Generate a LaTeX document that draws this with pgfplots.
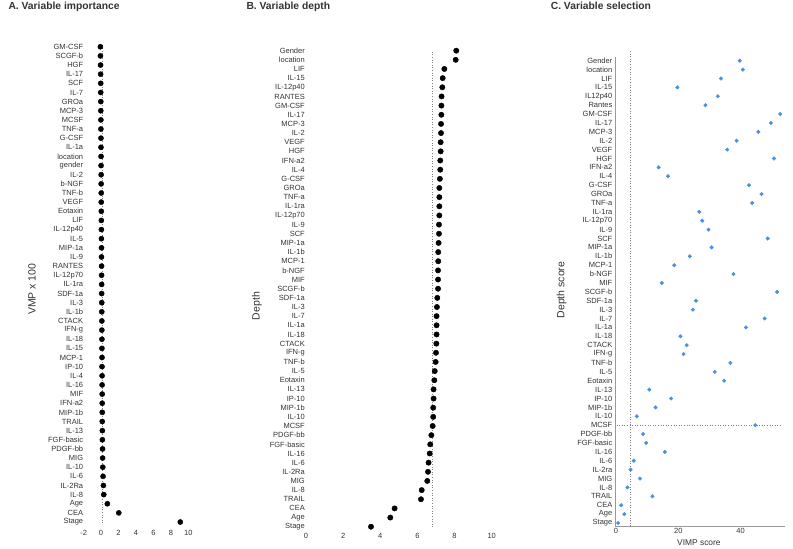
\documentclass[border=0pt]{standalone}
\usepackage{fontspec}
\setmainfont{Liberation Sans}
\usepackage{pgfplots}
\usepackage{pgfplotstable}
\pgfplotsset{compat=1.18}

\definecolor{txt}{HTML}{333333}
\definecolor{dotblue}{HTML}{4A90E2}

% A. Variable importance (rows from bottom to top)
\pgfplotstableread{
y v name
1 9.08 Stage
2 2.03 CEA
3 0.72 Age
4 0.31 IL-8
5 0.27 IL-2Ra
6 0.23 IL-6
7 0.20 IL-10
8 0.18 MIG
9 0.17 PDGF-bb
10 0.15 FGF-basic
11 0.15 IL-13
12 0.14 TRAIL
13 0.14 MIP-1b
14 0.13 IFN-a2
15 0.13 MIF
16 0.12 IL-16
17 0.12 IL-4
18 0.11 IP-10
19 0.11 MCP-1
20 0.10 IL-15
21 0.10 IL-18
22 0.09 IFN-g
23 0.09 CTACK
24 0.08 IL-1b
25 0.08 IL-3
26 0.07 SDF-1a
27 0.07 IL-1ra
28 0.06 IL-12p70
29 0.06 RANTES
30 0.05 IL-9
31 0.05 MIP-1a
32 0.04 IL-5
33 0.04 IL-12p40
34 0.03 LIF
35 0.03 Eotaxin
36 0.02 VEGF
37 0.02 TNF-b
38 0.01 b-NGF
39 0.01 IL-2
40 0.00 gender
41 0.00 location
42 -0.01 IL-1a
43 -0.01 G-CSF
44 -0.02 TNF-a
45 -0.02 MCSF
46 -0.03 MCP-3
47 -0.03 GROa
48 -0.04 IL-7
49 -0.04 SCF
50 -0.05 IL-17
51 -0.06 HGF
52 -0.07 SCGF-b
53 -0.08 GM-CSF
}\tabA

% B. Variable depth
\pgfplotstableread{
y v name
1 3.50 Stage
2 4.54 Age
3 4.77 CEA
4 6.19 TRAIL
5 6.23 IL-8
6 6.53 MIG
7 6.57 IL-2Ra
8 6.60 IL-6
9 6.66 IL-16
10 6.69 FGF-basic
11 6.75 PDGF-bb
12 6.82 MCSF
13 6.85 IL-10
14 6.85 MIP-1b
15 6.87 IP-10
16 6.87 IL-13
17 6.91 Eotaxin
18 6.93 IL-5
19 6.98 TNF-b
20 7.00 IFN-g
21 7.02 CTACK
22 7.03 IL-18
23 7.03 IL-1a
24 7.03 IL-7
25 7.05 IL-3
26 7.07 SDF-1a
27 7.11 SCGF-b
28 7.11 MIF
29 7.11 b-NGF
30 7.12 MCP-1
31 7.12 IL-1b
32 7.14 MIP-1a
33 7.16 SCF
34 7.16 IL-9
35 7.18 IL-12p70
36 7.18 IL-1ra
37 7.18 TNF-a
38 7.18 GROa
39 7.21 G-CSF
40 7.23 IL-4
41 7.23 IFN-a2
42 7.25 HGF
43 7.25 VEGF
44 7.27 IL-2
45 7.27 MCP-3
46 7.29 IL-17
47 7.29 GM-CSF
48 7.30 RANTES
49 7.34 IL-12p40
50 7.36 IL-15
51 7.45 LIF
52 8.06 location
53 8.09 Gender
}\tabB

% C. Variable selection (VIMP score)
\pgfplotstableread{
y v name
1 0.7 Stage
2 2.7 Age
3 1.7 CEA
4 11.7 TRAIL
5 3.7 IL-8
6 7.7 MIG
7 4.7 IL-2ra
8 5.7 IL-6
9 15.7 IL-16
10 9.7 FGF-basic
11 8.7 PDGF-bb
12 44.7 MCSF
13 6.7 IL-10
14 12.7 MIP-1b
15 17.7 IP-10
16 10.7 IL-13
17 34.7 Eotaxin
18 31.7 IL-5
19 36.7 TNF-b
20 21.7 IFN-g
21 22.7 CTACK
22 20.7 IL-18
23 41.7 IL-1a
24 47.7 IL-7
25 24.7 IL-3
26 25.7 SDF-1a
27 51.7 SCGF-b
28 14.7 MIF
29 37.7 b-NGF
30 18.7 MCP-1
31 23.7 IL-1b
32 30.7 MIP-1a
33 48.7 SCF
34 29.7 IL-9
35 27.7 IL-12p70
36 26.7 IL-1ra
37 43.7 TNF-a
38 46.7 GROa
39 42.7 G-CSF
40 16.7 IL-4
41 13.7 IFN-a2
42 50.7 HGF
43 35.7 VEGF
44 38.7 IL-2
45 45.7 MCP-3
46 49.7 IL-17
47 52.7 GM-CSF
48 28.7 Rantes
49 32.7 IL12p40
50 19.7 IL-15
51 33.7 LIF
52 40.7 location
53 39.7 Gender
}\tabC

\pgfplotsset{
  panel/.style={
    scale only axis,
    clip=false,
    anchor=south west,
    ymin=0.5, ymax=53.5,
    ytick={1,...,53},
    major tick length=0pt,
    axis line style={draw=none},
    tick label style={font=\fontsize{7.5bp}{9bp}\selectfont, text=txt},
    label style={font=\fontsize{10.5bp}{12bp}\selectfont, text=txt},
    /pgf/number format/assume math mode=true,
    yticklabel style={inner xsep=1bp},
  },
}
\tikzset{paneltitle/.style={anchor=base west, text=txt, font=\bfseries\fontsize{10.3bp}{12bp}\selectfont}}

\begin{document}
\begin{tikzpicture}

% panel A
\begin{axis}[panel,
    at={(83.6bp,22.4bp)}, width=109.1bp, height=484.4bp,
    xmin=-2, xmax=10.5, xtick={-2,0,2,4,6,8,10},
    xticklabel style={inner ysep=3.5bp},
    yticklabels from table={\tabA}{name},
    yticklabel style={inner xsep=0.3bp},
    ylabel={VMP x 100},
    ylabel style={at={(axis description cs:-0.473,0.49)}, anchor=center},
]
\draw[gray, dotted, line width=0.6bp] (axis cs:0.19,0.9) -- (axis cs:0.19,53.2);
\addplot[only marks, mark=*, mark size=2.6pt, black] table[x=v, y=y] {\tabA};
\end{axis}

% panel B
\begin{axis}[panel,
    at={(306bp,17.7bp)}, width=195bp, height=485.2bp,
    xmin=0, xmax=10.5, xtick={0,2,4,6,8,10},
    xticklabel style={inner ysep=1.5bp},
    yticklabels from table={\tabB}{name},
    ylabel={Depth},
    ylabel style={at={(axis description cs:-0.2513,0.4643)}, anchor=center},
]
\draw[gray, dotted, line width=0.6bp] (axis cs:6.8,0.98) -- (axis cs:6.8,53.05);
\addplot[only marks, mark=*, mark size=2.7pt, black] table[x=v, y=y] {\tabB};
\end{axis}

% panel C
\begin{axis}[panel,
    at={(615bp,23bp)}, width=169.9bp, height=469bp,
    xmin=-0.3, xmax=54.2, xtick={0,20,40},
    ymin=0.66, ymax=53.42,
    xticklabel style={inner ysep=2bp},
    yticklabels from table={\tabC}{name},
    yticklabel style={inner xsep=2.5bp},
    ylabel={Depth score},
    ylabel style={at={(axis description cs:-0.3137,0.503)}, anchor=center},
    xlabel={VIMP score},
    xlabel style={at={(axis description cs:0.494,-0.0356)}, anchor=center, font=\fontsize{8.4bp}{10bp}\selectfont},
]
\draw[gray!80, line width=0.8bp] (rel axis cs:0,1) -- (rel axis cs:0,0) -- (rel axis cs:1,0);
\draw[gray, dotted, line width=0.6bp] (axis cs:4.5,0.66) -- (axis cs:4.5,54.2);
\draw[gray, dotted, line width=0.6bp] (axis cs:0.2,12) -- (axis cs:53,12);
\addplot[only marks, mark=*, mark size=1.8pt, dotblue] table[x=v, y=y] {\tabC};
\end{axis}

\node[paneltitle] at (5bp,539bp) {A. Variable importance};
\node[paneltitle] at (243bp,539bp) {B. Variable depth};
\node[paneltitle] at (547.3bp,539.7bp) {C. Variable selection};

\pgfresetboundingbox
\path (0,0) rectangle (793bp,549bp);
\end{tikzpicture}
\end{document}
